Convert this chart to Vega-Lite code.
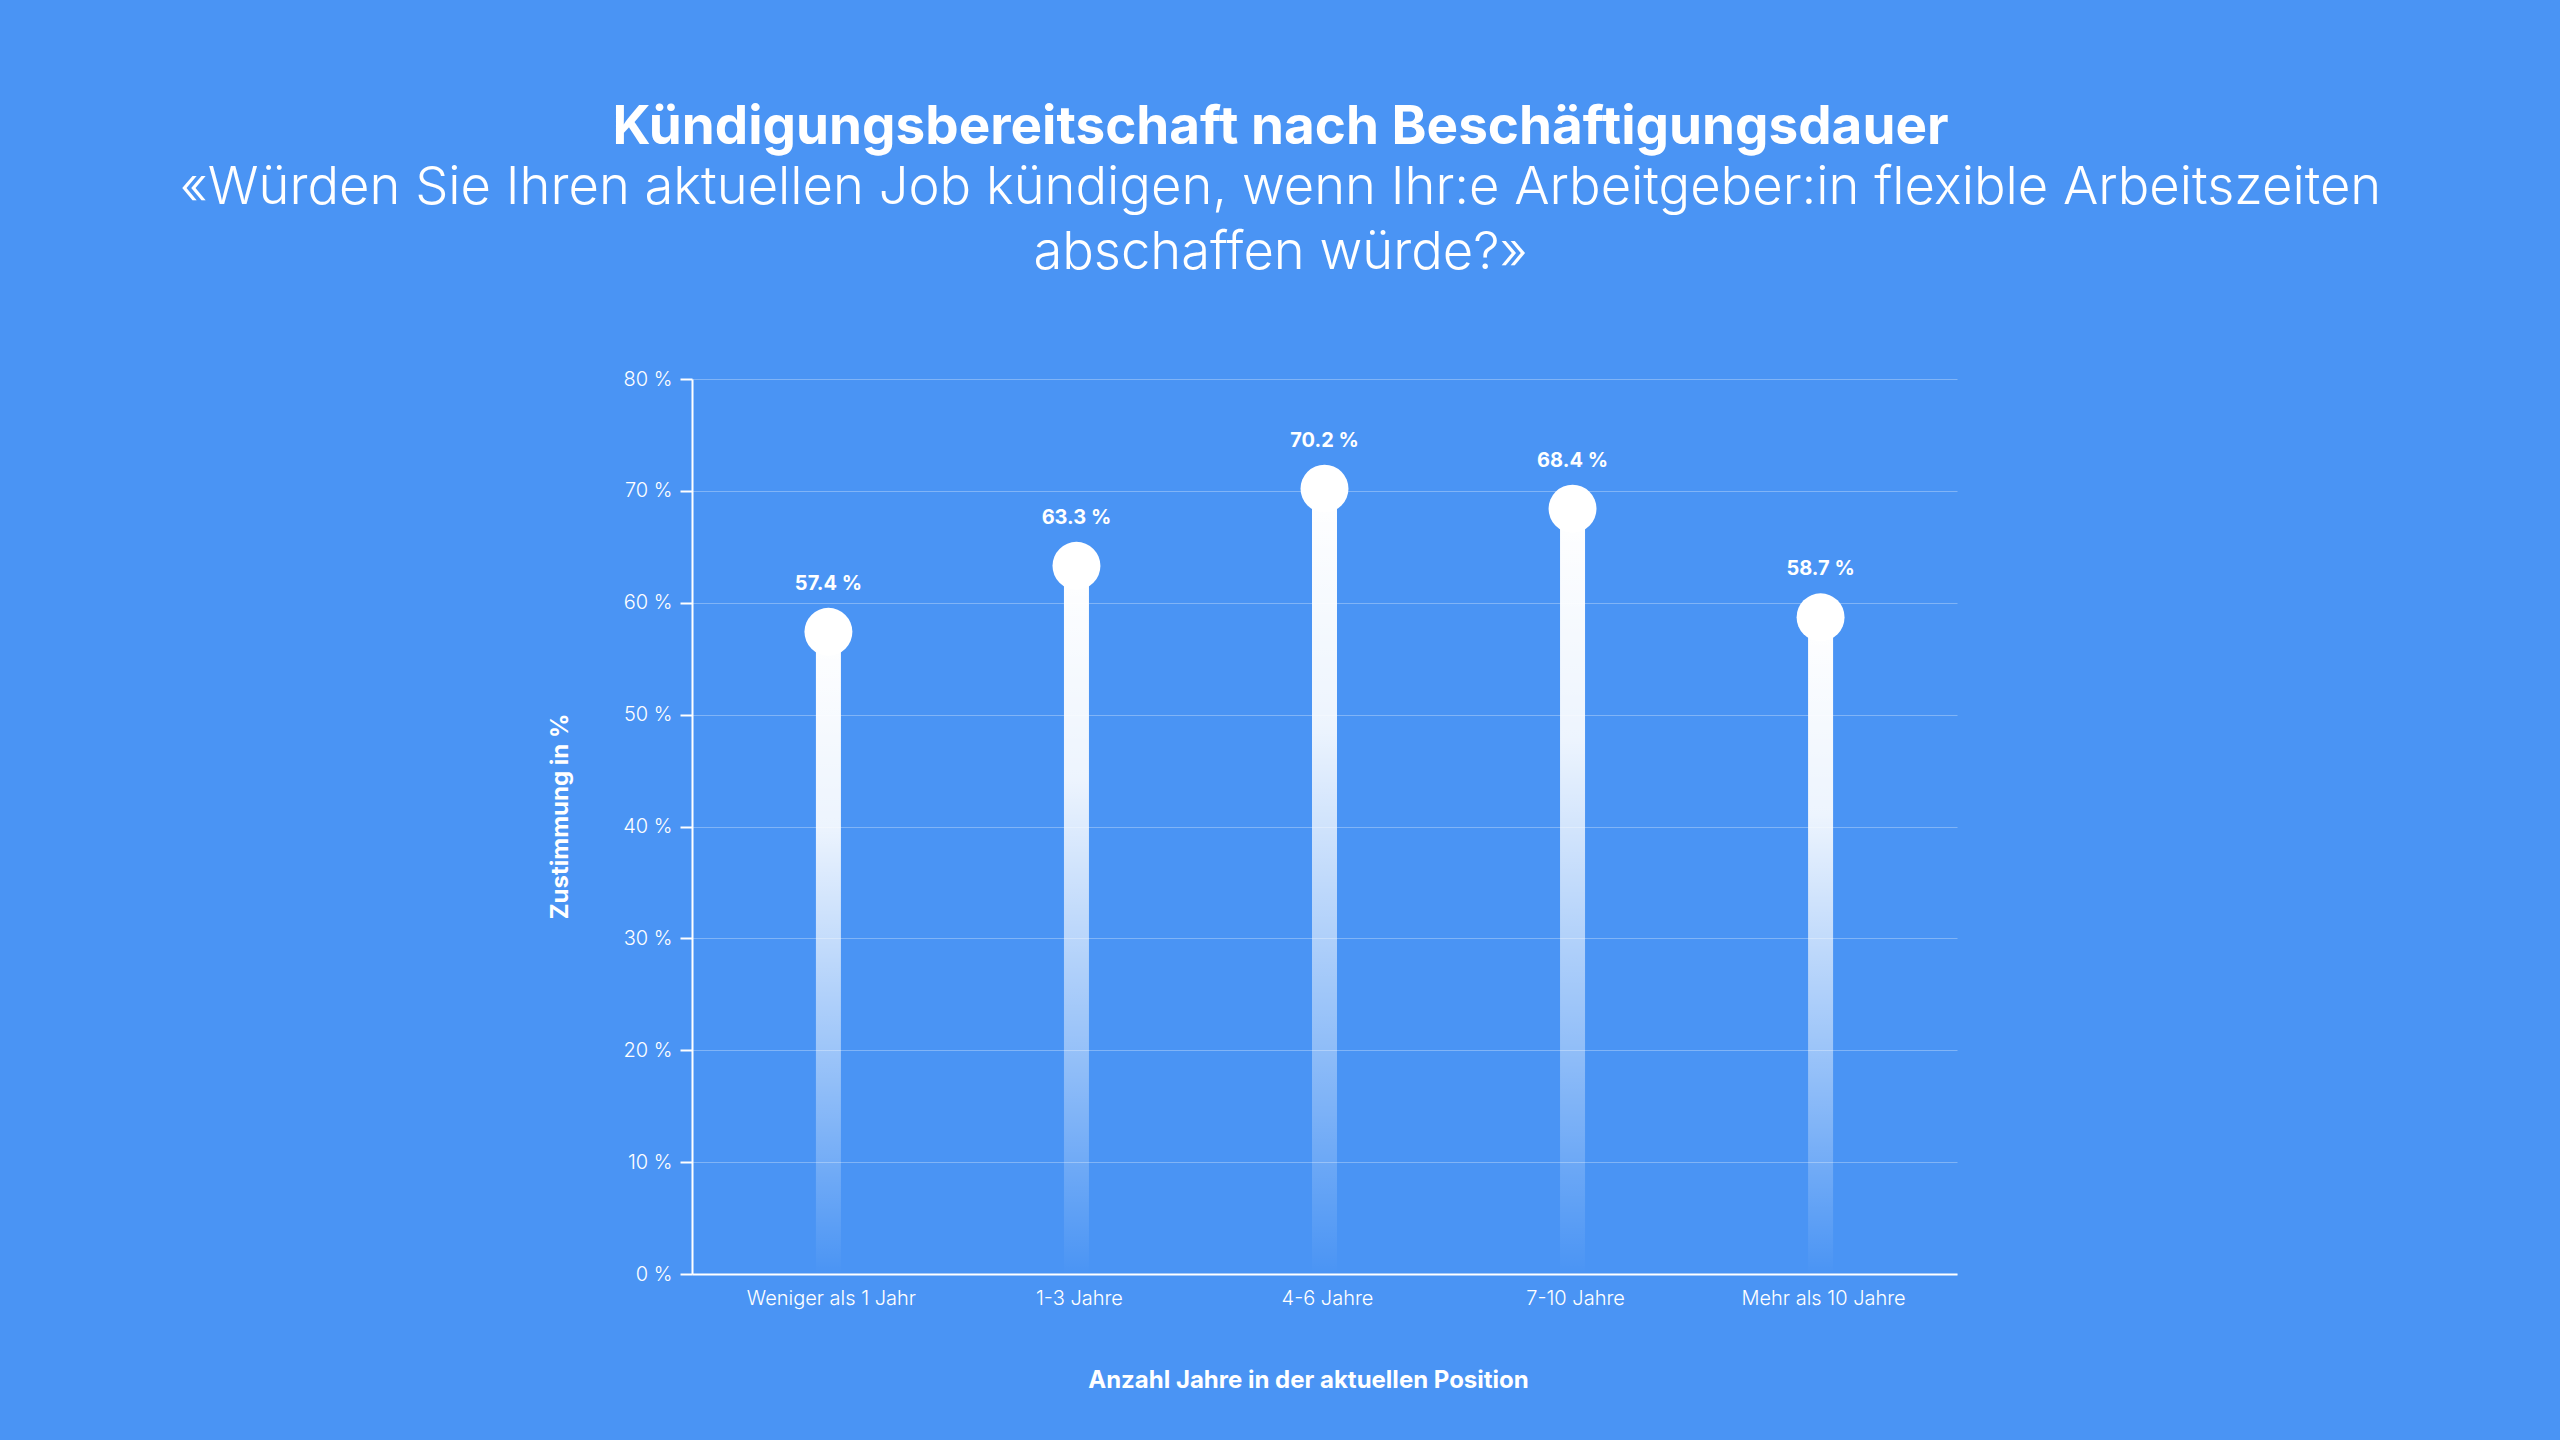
{
  "$schema": "https://vega.github.io/schema/vega-lite/v6.json",
  "width": 1265,
  "height": 895,
  "autosize": {"type": "none"},
  "padding": {"left": 692, "top": 379, "right": 603, "bottom": 166},
  "background": "#4A94F4",
  "config": {"view": {"stroke": null}, "font": "Inter"},
  "title": {
    "text": "Kündigungsbereitschaft nach Beschäftigungsdauer",
    "subtitle": ["«Würden Sie Ihren aktuellen Job kündigen, wenn Ihr:e Arbeitgeber:in flexible Arbeitszeiten", "abschaffen würde?»"],
    "anchor": "middle",
    "dx": -44,
    "offset": 90,
    "font": "Inter",
    "fontSize": 53,
    "fontWeight": 700,
    "color": "white",
    "subtitleFont": "Inter",
    "subtitleFontSize": 52.5,
    "subtitleFontWeight": 300,
    "subtitleColor": "white",
    "subtitleLineHeight": 65,
    "subtitlePadding": 8
  },
  "data": {
    "values": [
      {"cat": "Weniger als 1 Jahr", "value": 57.4},
      {"cat": "1-3 Jahre", "value": 63.3},
      {"cat": "4-6 Jahre", "value": 70.2},
      {"cat": "7-10 Jahre", "value": 68.4},
      {"cat": "Mehr als 10 Jahre", "value": 58.7}
    ]
  },
  "transform": [{"calculate": "format(datum.value, '.1f') + ' %'", "as": "label"}],
  "encoding": {
    "x": {
      "field": "cat",
      "type": "nominal",
      "sort": null,
      "scale": {"paddingInner": 0, "paddingOuter": 0.05},
      "axis": {
        "title": "Anzahl Jahre in der aktuellen Position",
        "titleFont": "Inter",
        "titleFontWeight": 700,
        "titleFontSize": 24,
        "titleColor": "white",
        "titlePadding": 60,
        "titleX": 616,
        "titleAlign": "center",
        "labelFont": "Inter",
        "labelFontWeight": 300,
        "labelFontSize": 20,
        "labelColor": "white",
        "labelPadding": 14,
        "labelOffset": 3,
        "labelAngle": 0,
        "ticks": false,
        "domainColor": "white",
        "domainWidth": 2
      }
    }
  },
  "layer": [
    {
      "mark": {
        "type": "bar",
        "width": 25,
        "fill": {
          "gradient": "linear",
          "x1": 0, "y1": 0, "x2": 0, "y2": 1,
          "stops": [
            {"offset": 0, "color": "rgba(255,255,255,1)"},
            {"offset": 0.3, "color": "rgba(255,255,255,0.9)"},
            {"offset": 0.7, "color": "rgba(255,255,255,0.4)"},
            {"offset": 1, "color": "rgba(255,255,255,0)"}
          ]
        }
      },
      "encoding": {
        "y": {
          "field": "value",
          "type": "quantitative",
          "scale": {"domain": [0, 80]},
          "axis": {
            "title": "Zustimmung in %",
            "titleFont": "Inter",
            "titleFontWeight": 700,
            "titleFontSize": 24,
            "titleColor": "white",
            "titlePadding": 50,
            "titleY": 437,
            "titleAlign": "center",
            "values": [0, 10, 20, 30, 40, 50, 60, 70, 80],
            "labelExpr": "datum.value + ' %'",
            "labelFont": "Inter",
            "labelFontWeight": 300,
            "labelFontSize": 20,
            "labelColor": "white",
            "labelPadding": 8,
            "tickColor": "white",
            "tickSize": 12,
            "tickWidth": 2,
            "domainColor": "white",
            "domainWidth": 2,
            "gridColor": "white",
            "gridOpacity": 0.3,
            "gridWidth": 1
          }
        }
      }
    },
    {
      "mark": {"type": "circle", "size": 2300, "color": "white", "opacity": 1},
      "encoding": {"y": {"field": "value", "type": "quantitative"}}
    },
    {
      "mark": {"type": "text", "dy": -48, "font": "Inter", "fontSize": 20, "fontWeight": 700, "color": "white", "baseline": "middle"},
      "encoding": {"y": {"field": "value", "type": "quantitative"}, "text": {"field": "label"}}
    }
  ]
}
